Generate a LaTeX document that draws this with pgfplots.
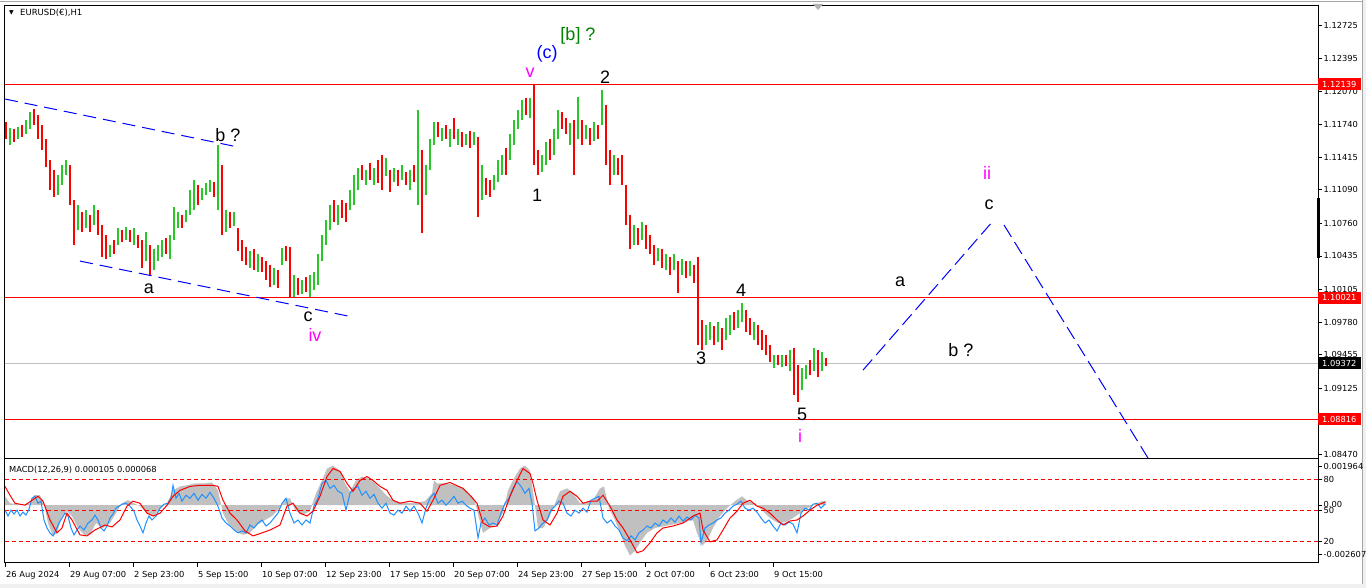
\documentclass[border=0pt]{standalone}
\usepackage{pgfplots}
\pgfplotsset{compat=1.18}
\usepackage{pgfplotstable}
\usepackage{fontspec}
\setmainfont{DejaVu Sans}
\newfontfamily\wave{Liberation Sans}
\definecolor{barup}{RGB}{40,200,40}
\definecolor{bardn}{RGB}{255,0,0}
\definecolor{macdgray}{RGB}{192,192,192}
\definecolor{mline}{RGB}{30,144,255}
\definecolor{wgreen}{RGB}{0,128,0}
\definecolor{mag}{RGB}{255,0,255}
\definecolor{edge}{RGB}{240,240,240}

% H1 bars closing up: x position, high, low
\pgfplotstableread{
x hi lo
10 1.1170 1.1154
18 1.1171 1.1159
26 1.1178 1.1164
30 1.1186 1.1169
58 1.1124 1.1104
62 1.1134 1.1114
66 1.1139 1.1124
78 1.1094 1.1069
86 1.1089 1.1071
94 1.1094 1.1074
110 1.1054 1.1042
118 1.1071 1.1054
126 1.1072 1.1059
134 1.1071 1.1054
146 1.1067 1.1038
154 1.1050 1.1030
158 1.1054 1.1038
162 1.1059 1.1042
170 1.1064 1.1040
174 1.1092 1.1059
178 1.1087 1.1071
186 1.1089 1.1077
190 1.1109 1.1084
194 1.1119 1.1089
202 1.1111 1.1099
206 1.1116 1.1104
210 1.1119 1.1107
218 1.1154 1.1089
226 1.1089 1.1067
234 1.1087 1.1073
250 1.1048 1.1032
258 1.1045 1.1028
274 1.1032 1.1015
282 1.1051 1.1035
294 1.1025 1.1003
302 1.1020 1.1006
310 1.1025 1.1003
314 1.1028 1.1010
318 1.1045 1.1015
322 1.1064 1.1038
326 1.1079 1.1054
330 1.1094 1.1069
338 1.1094 1.1074
350 1.1109 1.1089
354 1.1124 1.1094
358 1.1131 1.1109
366 1.1129 1.1114
374 1.1131 1.1114
386 1.1141 1.1123
394 1.1131 1.1117
402 1.1134 1.1119
410 1.1129 1.1109
418 1.1188 1.1094
426 1.1134 1.1104
430 1.1159 1.1129
434 1.1176 1.1154
442 1.1170 1.1157
450 1.1169 1.1152
458 1.1169 1.1154
466 1.1164 1.1154
474 1.1166 1.1154
482 1.1134 1.1099
494 1.1124 1.1109
498 1.1139 1.1117
502 1.1144 1.1124
510 1.1164 1.1139
514 1.1178 1.1154
518 1.1188 1.1169
522 1.1198 1.1178
530 1.1200 1.1180
542 1.1144 1.1127
546 1.1156 1.1134
554 1.1169 1.1144
558 1.1188 1.1159
570 1.1175 1.1154
578 1.1201 1.1159
586 1.1173 1.1159
594 1.1176 1.1157
602 1.1208 1.1173
614 1.1144 1.1124
634 1.1074 1.1054
642 1.1077 1.1059
658 1.1051 1.1038
666 1.1045 1.1030
674 1.1045 1.1030
682 1.1040 1.1025
690 1.1038 1.1024
706 1.0975 1.0955
710 1.0978 1.0960
718 1.0978 1.0958
726 1.0982 1.0960
730 1.0985 1.0965
738 1.0990 1.0972
742 1.0997 1.0978
754 1.0978 1.0960
774 1.0945 1.0932
782 1.0945 1.0933
790 1.0950 1.0929
802 1.0932 1.0911
806 1.0935 1.0921
814 1.0952 1.0929
822 1.0948 1.0929
}\barsup

% H1 bars closing down
\pgfplotstableread{
x hi lo
6 1.1176 1.1159
14 1.1169 1.1156
22 1.1173 1.1161
34 1.1189 1.1173
38 1.1183 1.1159
42 1.1173 1.1149
46 1.1159 1.1132
50 1.1139 1.1109
54 1.1129 1.1102
70 1.1134 1.1094
74 1.1099 1.1054
82 1.1087 1.1067
90 1.1084 1.1067
98 1.1089 1.1064
102 1.1074 1.1042
106 1.1064 1.1040
114 1.1059 1.1045
122 1.1069 1.1057
130 1.1069 1.1057
138 1.1064 1.1051
142 1.1059 1.1032
150 1.1054 1.1025
166 1.1061 1.1045
182 1.1084 1.1071
198 1.1114 1.1094
214 1.1117 1.1102
222 1.1134 1.1064
230 1.1087 1.1071
238 1.1071 1.1048
242 1.1059 1.1038
246 1.1052 1.1035
254 1.1050 1.1030
262 1.1042 1.1028
266 1.1038 1.1020
270 1.1035 1.1013
278 1.1030 1.1012
286 1.1053 1.1038
290 1.1052 1.1002
298 1.1022 1.1005
306 1.1023 1.1008
334 1.1099 1.1077
342 1.1099 1.1081
346 1.1096 1.1077
362 1.1134 1.1119
370 1.1136 1.1119
378 1.1139 1.1116
382 1.1144 1.1109
390 1.1129 1.1107
398 1.1129 1.1113
406 1.1127 1.1114
414 1.1134 1.1117
422 1.1149 1.1066
438 1.1176 1.1161
446 1.1173 1.1159
454 1.1180 1.1159
462 1.1166 1.1152
470 1.1167 1.1151
478 1.1161 1.1082
486 1.1121 1.1104
490 1.1119 1.1102
506 1.1151 1.1124
526 1.1200 1.1183
534 1.1214 1.1134
538 1.1149 1.1124
550 1.1159 1.1139
562 1.1186 1.1169
566 1.1180 1.1164
574 1.1178 1.1124
582 1.1178 1.1154
590 1.1170 1.1154
598 1.1173 1.1159
606 1.1193 1.1134
610 1.1149 1.1114
618 1.1141 1.1124
622 1.1144 1.1114
626 1.1114 1.1074
630 1.1084 1.1050
638 1.1071 1.1054
646 1.1074 1.1050
650 1.1064 1.1045
654 1.1054 1.1035
662 1.1050 1.1032
670 1.1042 1.1025
678 1.1038 1.1007
686 1.1038 1.1022
694 1.1035 1.1017
698 1.1042 1.0955
702 1.0980 1.0950
714 1.0974 1.0955
722 1.0972 1.0950
734 1.0988 1.0970
746 1.0990 1.0968
750 1.0982 1.0965
758 1.0975 1.0955
762 1.0970 1.0950
766 1.0965 1.0945
770 1.0955 1.0938
778 1.0945 1.0935
786 1.0945 1.0934
794 1.0952 1.0906
798 1.0935 1.0899
810 1.0940 1.0925
818 1.0950 1.0923
826 1.0942 1.0934
}\barsdn

% MACD histogram (panel scale 0-100), baseline 55.2 at both ends
\pgfplotstableread{
x v
5 55.2
5 63.8
10 57.1
20 55.9
30 57.1
34 64.8
40 64.8
44 57.1
48 38.1
53 25.7
57 28.6
62 44.8
67 49.5
72 44.8
78 33.3
85 25.7
90 26.7
96 38.1
103 33.3
110 38.1
116 47.6
122 57.1
128 60.0
134 57.1
140 54.3
147 47.6
154 44.8
160 52.4
167 57.1
173 69.5
180 73.3
187 74.3
195 76.2
205 76.2
212 77.1
218 69.5
223 47.6
228 38.1
235 30.5
243 26.7
250 28.6
257 36.2
265 41.0
272 44.8
280 52.4
285 61.9
290 61.9
295 50.5
302 45.7
310 49.5
316 66.7
322 79.0
327 90.5
333 93.3
340 88.6
345 76.2
350 68.6
356 79.0
362 82.8
368 81.0
374 77.1
380 71.4
386 64.8
393 60.0
400 58.1
410 57.1
418 58.1
425 59.1
432 66.7
434 79.0
437 76.2
445 76.2
452 75.2
460 73.3
467 68.6
474 61.9
479 42.9
483 28.6
490 33.3
497 38.1
503 47.6
508 69.5
514 81.0
520 90.5
525 93.3
530 88.6
534 61.9
538 33.3
543 33.3
549 42.9
555 57.1
560 68.6
567 71.4
573 66.7
580 57.1
587 58.1
593 60.0
600 71.4
604 73.3
609 52.4
615 41.0
620 28.6
625 16.2
630 6.7
635 11.4
640 19.1
647 28.6
655 33.3
665 35.2
675 37.1
685 39.0
693 41.0
697 28.6
702 16.2
707 21.0
713 33.3
720 44.8
727 52.4
735 59.1
742 63.8
748 59.1
755 57.1
762 50.5
770 42.9
778 38.1
786 39.0
793 42.9
800 47.6
808 52.4
815 56.2
822 59.1
826 59.1
826 55.2
}\hist

% signal line
\pgfplotstableread{
x v
5 73.3
10 64.8
15 57.1
25 55.2
32 60.0
38 63.8
43 59.1
50 41.0
57 28.6
62 33.3
67 47.6
72 41.0
80 26.7
87 25.7
95 31.4
105 36.2
112 34.3
120 41.0
127 54.3
133 59.1
140 57.1
147 47.6
153 44.8
160 47.6
167 55.2
173 63.8
180 69.5
190 73.3
200 74.3
213 74.3
218 73.3
223 60.0
230 47.6
237 41.0
245 30.5
253 25.7
262 28.6
270 31.4
280 36.2
287 54.3
293 57.1
300 47.6
307 44.8
313 49.5
320 63.8
327 82.8
333 90.5
340 87.7
347 76.2
353 68.6
360 79.0
367 82.8
373 79.0
380 73.3
387 69.5
393 60.0
400 57.1
410 59.1
420 57.1
427 49.5
433 60.0
440 74.3
450 77.1
463 71.4
470 64.8
477 57.1
483 38.1
490 34.3
497 35.2
503 44.8
510 63.8
517 79.0
523 90.5
530 85.7
533 76.2
537 60.0
543 41.0
550 36.2
557 47.6
563 63.8
570 68.6
577 63.8
583 57.1
590 59.1
597 59.1
603 64.8
610 54.3
617 41.0
623 33.3
630 21.9
637 9.5
643 11.4
650 19.1
657 28.6
663 33.3
673 35.2
683 38.1
693 44.8
700 47.6
703 31.4
710 20.0
717 21.9
723 31.4
730 42.9
737 49.5
743 57.1
750 60.0
757 54.3
763 52.4
770 47.6
777 41.0
783 36.2
790 40.0
797 41.0
803 44.8
810 50.5
817 55.2
825 58.1
}\sigline

% blue line
\pgfplotstableread{
x v
5 50.5
8 44.8
11 50.5
14 46.7
17 50.5
20 44.8
23 48.6
26 45.7
29 51.4
32 61.9
35 63.8
38 57.1
41 59.1
44 41.0
47 33.3
50 28.6
53 25.7
56 31.4
59 38.1
62 42.9
65 47.6
68 44.8
71 33.3
74 26.7
77 31.4
80 35.2
84 31.4
88 38.1
92 41.0
95 45.7
98 41.0
101 33.3
104 30.5
107 35.2
110 42.9
113 46.7
116 52.4
119 54.3
122 56.2
126 57.1
130 54.3
134 49.5
137 41.0
140 35.2
143 28.6
146 38.1
149 44.8
152 41.0
156 44.8
160 52.4
164 56.2
168 57.1
171 61.9
173 74.3
176 61.9
179 66.7
182 59.1
186 64.8
190 61.9
194 66.7
198 60.0
202 65.7
206 61.9
210 67.6
214 61.9
218 54.3
222 42.9
226 38.1
230 35.2
234 31.4
238 28.6
242 30.5
246 28.6
250 36.2
254 33.3
258 38.1
262 41.0
266 35.2
270 38.1
274 42.9
278 47.6
282 57.1
286 61.9
290 47.6
294 38.1
298 41.0
302 36.2
306 41.0
310 38.1
314 54.3
318 61.9
322 76.2
326 79.0
330 71.4
334 74.3
338 68.6
342 66.7
346 50.5
350 66.7
354 71.4
358 73.3
362 64.8
366 68.6
370 61.9
374 65.7
378 57.1
382 52.4
386 57.1
390 47.6
394 45.7
398 50.5
402 47.6
406 54.3
410 49.5
414 54.3
418 47.6
422 38.1
426 52.4
430 61.9
434 66.7
438 57.1
442 60.0
446 55.2
450 59.1
454 63.8
458 57.1
462 59.1
466 55.2
470 52.4
474 50.5
478 23.8
481 38.1
485 42.9
489 36.2
493 38.1
497 36.2
501 47.6
505 57.1
509 61.9
513 71.4
517 78.0
521 73.3
525 66.7
529 71.4
532 57.1
535 30.5
539 33.3
543 38.1
547 41.0
551 50.5
555 54.3
559 59.1
563 57.1
567 47.6
571 44.8
575 50.5
579 47.6
583 52.4
587 48.6
591 60.0
595 61.9
599 63.8
603 42.9
607 38.1
611 41.0
615 35.2
619 31.4
623 23.8
627 21.0
631 25.7
635 21.9
639 28.6
643 31.4
647 35.2
651 33.3
655 38.1
659 35.2
663 41.0
667 38.1
671 42.9
675 39.0
679 44.8
683 40.0
687 43.8
691 41.0
695 45.7
699 42.9
701 19.1
705 33.3
709 36.2
713 38.1
717 41.0
721 42.9
725 47.6
729 50.5
733 54.3
737 56.2
741 59.1
745 52.4
749 50.5
753 52.4
757 48.6
761 42.9
765 38.1
769 41.0
773 35.2
777 30.5
781 38.1
785 36.2
789 39.0
793 37.1
797 28.6
801 47.6
805 52.4
809 50.5
813 56.2
817 57.1
821 52.4
825 56.2
}\bline

\begin{document}
\begin{tikzpicture}[x=1pt,y=1pt]
\path[use as bounding box,fill=white] (0,0) rectangle (1366,-588);
\fill[edge] (1362,0) rectangle (1366,-588);
\draw[gray!70] (1362,0) -- (1362,-588);
\fill[edge] (0,-584) rectangle (1366,-588);
\draw[gray!70] (0,-1) -- (1362,-1);

% ---- price panel ----
\begin{axis}[
  at={(5,-5)}, anchor=north west, scale only axis,
  width=1313pt, height=453pt,
  xmin=5, xmax=1318, ymin=1.08431, ymax=1.12923,
  axis line style={line width=1pt},
  xtick=\empty,
  ytick={1.12725,1.12395,1.12070,1.11740,1.11415,1.11090,1.10760,1.10435,1.10105,1.09780,1.09455,1.09125,1.08795,1.08470},
  yticklabels={1.12725,1.12395,1.12070,1.11740,1.11415,1.11090,1.10760,1.10435,1.10105,1.09780,1.09455,1.09125,1.08795,1.08470},
  ytick pos=right, yticklabel pos=right,
  tick align=outside, major tick length=4pt,
  tick style={black, line width=0.8pt},
  yticklabel style={font=\fontsize{8.3}{9}\selectfont, inner sep=1.5pt},
]
\addplot[red, line width=1pt] coordinates {(5,1.12139) (1318,1.12139)};
\addplot[red, line width=1pt] coordinates {(5,1.10021) (1318,1.10021)};
\addplot[red, line width=1pt] coordinates {(5,1.08816) (1318,1.08816)};
\addplot[macdgray, line width=1pt] coordinates {(5,1.09372) (1318,1.09372)};

\addplot[draw=none, mark=none, forget plot,
  error bars/.cd, y dir=plus, y explicit, error mark=none,
  error bar style={line width=2pt, draw=barup}]
  table[x=x, y=lo, y error expr=\thisrow{hi}-\thisrow{lo}] {\barsup};
\addplot[draw=none, mark=none, forget plot,
  error bars/.cd, y dir=plus, y explicit, error mark=none,
  error bar style={line width=2pt, draw=bardn}]
  table[x=x, y=lo, y error expr=\thisrow{hi}-\thisrow{lo}] {\barsdn};

% wave channel and projected path
\addplot[blue, line width=1pt, dash pattern=on 13pt off 7pt] coordinates {(5,1.11991) (238,1.11515)};
\addplot[blue, line width=1pt, dash pattern=on 13pt off 7pt] coordinates {(80,1.10384) (348,1.09839)};
\addplot[blue, line width=1pt, dash pattern=on 14pt off 6pt] coordinates {(863,1.09303) (993,1.10781)};
\addplot[blue, line width=1pt, dash pattern=on 14pt off 6pt] coordinates {(1004,1.10742) (1148,1.08431)};

\coordinate (t1) at (axis cs:1318,1.12139);
\coordinate (t2) at (axis cs:1318,1.10021);
\coordinate (t3) at (axis cs:1318,1.09372);
\coordinate (t4) at (axis cs:1318,1.08816);
\end{axis}

\begin{scope}[every node/.style={anchor=west, text=white, inner xsep=4pt, inner ysep=2.2pt, minimum height=12pt, font=\fontsize{8.3}{9}\selectfont}]
\node[fill=red] at (t1) {1.12139};
\node[fill=red] at (t2) {1.10021};
\node[fill=black] at (t3) {1.09372};
\node[fill=red] at (t4) {1.08816};
\end{scope}
\draw[line width=3pt] (1318,-198) -- (1318,-258);
\fill[gray!60] (813,-4) -- (823,-4) -- (818,-10) -- cycle;

\node[anchor=west, inner sep=0pt, font=\fontsize{6}{7}\selectfont] at (9,-13) {▼};
\node[anchor=west, inner sep=0pt, font=\fontsize{8.5}{10}\selectfont] at (20,-13) {EURUSD(€),H1};

% wave labels
\begin{scope}[every node/.style={inner sep=0pt, font=\wave\fontsize{18}{20}\selectfont}]
\node at (228,-135) {b ?};
\node at (149,-289) {a};
\node at (308,-317) {c};
\node[text=mag] at (315,-335) {iv};
\node[text=mag] at (530,-73) {v};
\node[text=blue] at (547,-54) {(c)};
\node[text=wgreen] at (578,-36) {[b] ?};
\node at (605,-77) {2};
\node at (537,-195) {1};
\node at (701,-358) {3};
\node at (741,-290) {4};
\node at (802,-414) {5};
\node[text=mag] at (800,-436) {i};
\node at (900,-282) {a};
\node at (961,-350) {b ?};
\node at (989,-205) {c};
\node[text=mag] at (987,-173) {ii};
\end{scope}

% ---- MACD panel ----
\begin{axis}[
  at={(5,-441)}, anchor=north west, scale only axis,
  width=1313pt, height=104pt,
  xmin=5, xmax=1318, ymin=0, ymax=100,
  axis line style={line width=1pt},
  xtick={5,69,133,197,261,325,389,453,517,581,645,709,773},
  xticklabels={26 Aug 2024,29 Aug 07:00,2 Sep 23:00,5 Sep 15:00,10 Sep 07:00,12 Sep 23:00,17 Sep 15:00,20 Sep 07:00,24 Sep 23:00,27 Sep 15:00,2 Oct 07:00,6 Oct 23:00,9 Oct 15:00},
  xtick pos=bottom,
  xticklabel style={anchor=north west, inner sep=0pt, xshift=1pt, yshift=-5pt, font=\fontsize{8.3}{9}\selectfont},
  ytick={92.7,80,55.5,50,20,7.9},
  yticklabels={0.001964,80,0.00,50,20,-0.002607},
  ytick pos=right, yticklabel pos=right,
  yticklabel style={font=\fontsize{8.3}{9}\selectfont, inner sep=1.5pt},
  tick align=outside, major tick length=4pt,
  tick style={black, line width=0.8pt},
]
\addplot[fill=macdgray, draw=none] table[x=x, y=v] {\hist} -- cycle;
\addplot[red, line width=1pt, dash pattern=on 4pt off 3pt] coordinates {(5,80) (1318,80)};
\addplot[red, line width=1pt, dash pattern=on 4pt off 3pt] coordinates {(5,50) (1318,50)};
\addplot[red, line width=1pt, dash pattern=on 4pt off 3pt] coordinates {(5,20) (1318,20)};
\addplot[mline, line width=1pt] table[x=x, y=v] {\bline};
\addplot[red, line width=1pt] table[x=x, y=v] {\sigline};
\end{axis}
\node[anchor=west, inner sep=0pt, font=\fontsize{8.3}{9.5}\selectfont] at (9,-470) {MACD(12,26,9) 0.000105 0.000068};
\end{tikzpicture}
\end{document}
